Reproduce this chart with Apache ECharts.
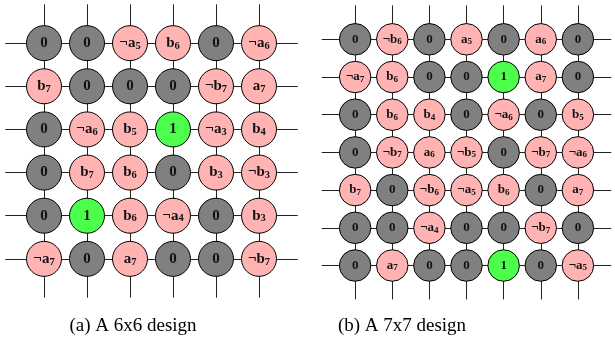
<!DOCTYPE html>
<html>
<head>
<meta charset="utf-8">
<script src="https://cdn.jsdelivr.net/npm/echarts@6/dist/echarts.min.js"></script>
<style>
  html, body { margin: 0; padding: 0; background: #fff; }
  #chart { width: 615px; height: 339px; }
</style>
</head>
<body>
<div id="chart"></div>
<script>
// cell contents, row by row; "~" means negation, trailing digit is a subscript
const design6 = [
  ['0', '0', '~a5', 'b6', '0', '~a6'],
  ['b7', '0', '0', '0', '~b7', 'a7'],
  ['0', '~a6', 'b5', '1', '~a3', 'b4'],
  ['0', 'b7', 'b6', '0', 'b3', '~b3'],
  ['0', '1', 'b6', '~a4', '0', 'b3'],
  ['~a7', '0', 'a7', '0', '0', '~b7']
]
const design7 = [
  ['0', '~b6', '0', 'a5', '0', 'a6', '0'],
  ['~a7', 'b6', '0', '0', '1', 'a7', '0'],
  ['0', 'b6', 'b4', '0', '~a6', '0', 'b5'],
  ['0', '~b7', 'a6', '~b5', '0', '~b7', '~a6'],
  ['b7', '0', '~b6', '~a5', 'b6', '0', 'a7'],
  ['0', '0', '~a4', '0', '0', '~b7', '0'],
  ['0', 'a7', '0', '0', '1', '0', '~a5']
]
const captions = ['(a) A 6x6 design', '(b) A 7x7 design']

const COLORS = { zero: '#808080', one: '#4dff4d', lit: '#ffb3b3' }
const EXT = 0.9  // how far the wires run past the outer nodes, in cells

function cellColor(v) {
  if (v === '0') return COLORS.zero
  if (v === '1') return COLORS.one
  return COLORS.lit
}

function labelText(v) {
  if (v === '0' || v === '1') return '{m|' + v + '}'
  let s = ''
  let rest = v
  if (rest[0] === '~') { s += '{m|\u00ac}'; rest = rest.slice(1) }
  return s + '{m|' + rest[0] + '}{s|' + rest.slice(1) + '}'
}

function nodes(design) {
  const out = []
  design.forEach((row, r) => row.forEach((v, c) => {
    out.push({ value: [c, r], itemStyle: { color: cellColor(v) }, name: v })
  }))
  return out
}

function wires(n) {
  const out = []
  for (let i = 0; i < n; i++) {
    out.push({ coords: [[-EXT, i], [n - 1 + EXT, i]] })
    out.push({ coords: [[i, -EXT], [i, n - 1 + EXT]] })
  }
  return out
}

function rich(size) {
  const font = 'Liberation Serif'
  return {
    m: { fontFamily: font, fontWeight: 'bold', fontSize: size, color: '#111' },
    s: { fontFamily: font, fontWeight: 'bold', fontSize: size * 0.7, color: '#111', padding: [size * 0.4, 0, 0, 0] }
  }
}

const chart = echarts.init(document.getElementById('chart'))

const layouts = [
  { design: design6, grid: { left: 1, top: 0, width: 301, height: 302 }, sym: 35, font: 15 },
  { design: design7, grid: { left: 318, top: 1.6, width: 302, height: 301.6 }, sym: 31.5, font: 13 }
]

const option = {
  animation: false,
  backgroundColor: '#fff',
  title: captions.map((t, i) => ({
    text: t,
    left: i === 0 ? 128 : 397,
    top: 312,
    textAlign: 'center',
    textStyle: { fontFamily: 'Liberation Serif', fontWeight: 'normal', fontSize: 19, color: '#000' }
  })),
  grid: layouts.map(l => l.grid),
  xAxis: layouts.map((l, i) => ({
    type: 'value', gridIndex: i, min: -1, max: l.design.length, show: false
  })),
  yAxis: layouts.map((l, i) => ({
    type: 'value', gridIndex: i, min: -1, max: l.design.length, inverse: true, show: false
  })),
  series: []
}

layouts.forEach((l, i) => {
  option.series.push({
    type: 'lines',
    coordinateSystem: 'cartesian2d',
    xAxisIndex: i, yAxisIndex: i,
    polyline: false,
    silent: true,
    lineStyle: { color: '#222', width: 1, opacity: 1 },
    data: wires(l.design.length),
    z: 1
  })
  option.series.push({
    type: 'scatter',
    xAxisIndex: i, yAxisIndex: i,
    symbol: 'circle',
    symbolSize: l.sym,
    itemStyle: { borderColor: '#000', borderWidth: 1, opacity: 1 },
    label: {
      show: true,
      position: 'inside',
      formatter: p => labelText(p.name),
      rich: rich(l.font)
    },
    data: nodes(l.design),
    z: 2
  })
})

chart.setOption(option)
</script>
</body>
</html>
